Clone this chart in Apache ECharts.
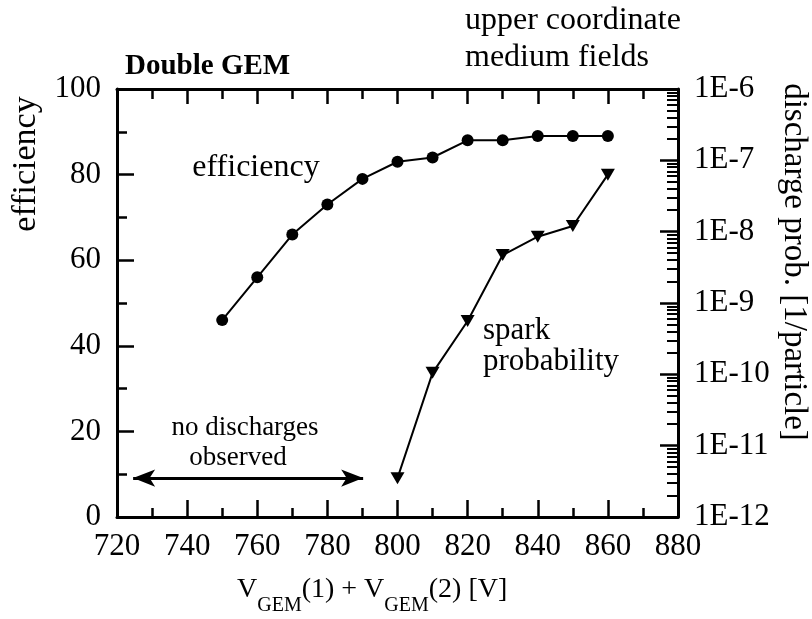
<!DOCTYPE html>
<html>
<head>
    <meta charset="utf-8" />
    <title>Double GEM</title>
    <script src="https://cdn.jsdelivr.net/npm/echarts@6.0.0/dist/echarts.min.js"></script>
    <style>
        body { margin: 0; background: #fff; }
        #chart { width: 812px; height: 619px; }
    </style>
</head>
<body>
    <div id="chart"></div>
    <script type="text/javascript">
        // voltages V_GEM(1) + V_GEM(2)
        var effVoltage = [750, 760, 770, 780, 790, 800, 810, 820, 830, 840, 850, 860];
        var efficiency = [46, 56, 66, 73, 79, 83, 84, 88, 88, 89, 89, 89];
        var sparkVoltage = [800, 810, 820, 830, 840, 850, 860];
        var sparkProb = [3.5e-12, 1.05e-10, 5.6e-10, 4.7e-9, 8.5e-9, 1.2e-8, 6.3e-8];
        var xTicks = [720, 880, 20];
        var effTicks = [0, 100, 20];
        var decades = [-12, -6];
        // "no discharges observed" arrow, in data units
        var noDischargeArrow = [[724.6, 9.1], [790.2, 9.1]];

        var font = 'Liberation Serif';

        // minor log ticks 2..9 per decade
        var minorLog = [];
        for (var e = decades[0]; e < decades[1]; e++) {
            for (var m = 2; m <= 9; m++) minorLog.push(m * Math.pow(10, e));
        }

        function txt(x, y, text, size, align, extra) {
            var el = { type: 'text', x: x, y: y, style: { text: text, fontFamily: font, fontSize: size, fill: '#000', align: align, verticalAlign: 'middle' } };
            if (extra) for (var k in extra) el[k] = extra[k];
            return el;
        }

        var chart = echarts.init(document.getElementById('chart'));
        var option = {
            animation: false,
            grid: { left: 117, right: 134, top: 89, bottom: 102 },
            xAxis: [
                {
                    type: 'value', position: 'bottom',
                    min: xTicks[0], max: xTicks[1], interval: xTicks[2],
                    axisLine: { lineStyle: { color: '#000', width: 3 } },
                    axisTick: { inside: true, length: 17, lineStyle: { color: '#000', width: 2.5 } },
                    minorTick: { show: true, splitNumber: 2, length: 9, lineStyle: { color: '#000', width: 2.5 } },
                    axisLabel: { color: '#000', fontFamily: font, fontSize: 31, margin: 14 },
                    splitLine: { show: false }
                },
                {
                    type: 'value', position: 'top',
                    min: xTicks[0], max: xTicks[1], interval: xTicks[2],
                    axisLine: { lineStyle: { color: '#000', width: 3 } },
                    axisTick: { inside: true, length: 15, lineStyle: { color: '#000', width: 2.5 } },
                    minorTick: { show: true, splitNumber: 2, length: 10, lineStyle: { color: '#000', width: 2.5 } },
                    axisLabel: { show: false },
                    splitLine: { show: false }
                }
            ],
            yAxis: [
                {
                    type: 'value', position: 'left',
                    min: effTicks[0], max: effTicks[1], interval: effTicks[2],
                    axisLine: { lineStyle: { color: '#000', width: 3 } },
                    axisTick: { inside: true, length: 17, lineStyle: { color: '#000', width: 2.5 } },
                    minorTick: { show: true, splitNumber: 2, length: 10, lineStyle: { color: '#000', width: 2.5 } },
                    axisLabel: { color: '#000', fontFamily: font, fontSize: 31, margin: 16 },
                    splitLine: { show: false }
                },
                {
                    type: 'log', position: 'right', logBase: 10,
                    min: Math.pow(10, decades[0]), max: Math.pow(10, decades[1]),
                    axisLine: { lineStyle: { color: '#000', width: 3 } },
                    axisTick: { inside: true, length: 18, lineStyle: { color: '#000', width: 2.5 } },
                    axisLabel: {
                        color: '#000', fontFamily: font, fontSize: 31, margin: 16,
                        formatter: function (v) { return '1E' + Math.round(Math.log10(v)); }
                    },
                    splitLine: { show: false }
                },
                {
                    type: 'log', position: 'right', logBase: 10,
                    min: Math.pow(10, decades[0]), max: Math.pow(10, decades[1]),
                    axisLine: { show: false },
                    axisTick: { inside: true, length: 11, customValues: minorLog, lineStyle: { color: '#000', width: 2 } },
                    axisLabel: { show: false },
                    splitLine: { show: false }
                }
            ],
            series: [
                {
                    name: 'efficiency', type: 'line',
                    xAxisIndex: 0, yAxisIndex: 0,
                    data: effVoltage.map(function (v, i) { return [v, efficiency[i]]; }),
                    symbol: 'circle', symbolSize: 12,
                    itemStyle: { color: '#000' },
                    lineStyle: { color: '#000', width: 2 },
                    markLine: {
                        silent: true,
                        symbol: ['arrow', 'arrow'], symbolSize: [13, 22],
                        label: { show: false },
                        lineStyle: { color: '#000', width: 3, type: 'solid' },
                        data: [[{ coord: noDischargeArrow[0] }, { coord: noDischargeArrow[1] }]]
                    }
                },
                {
                    name: 'spark probability', type: 'line',
                    xAxisIndex: 0, yAxisIndex: 1,
                    data: sparkVoltage.map(function (v, i) { return [v, sparkProb[i]]; }),
                    symbol: 'triangle', symbolRotate: 180, symbolSize: [14, 12],
                    itemStyle: { color: '#000' },
                    lineStyle: { color: '#000', width: 2 }
                }
            ],
            graphic: [
                {
                    type: 'text', x: 125, y: 67,
                    style: { text: 'Double GEM', fontFamily: font, fontSize: 29, fontWeight: 'bold', fill: '#000', align: 'left', verticalAlign: 'middle' }
                },
                txt(465, 21, 'upper coordinate', 32, 'left'),
                txt(465, 58, 'medium fields', 32, 'left'),
                txt(256, 168, 'efficiency', 32, 'center'),
                txt(483, 331, 'spark', 31, 'left'),
                txt(483, 362, 'probability', 31, 'left'),
                txt(245, 428, 'no discharges', 27, 'center'),
                txt(238, 458, 'observed', 27, 'center'),
                txt(26, 164, 'efficiency', 34, 'center', { rotation: Math.PI / 2 }),
                txt(794, 262, 'discharge prob. [1/particle]', 33, 'center', { rotation: -Math.PI / 2 }),
                {
                    type: 'text', x: 237, y: 590,
                    style: {
                        text: 'V{s|GEM}(1) + V{s|GEM}(2) [V]',
                        fontFamily: font, fontSize: 28, fill: '#000', align: 'left', verticalAlign: 'middle',
                        rich: { s: { fontFamily: font, fontSize: 20, fill: '#000', padding: [31, 0, 0, 0] } }
                    }
                }
            ]
        };
        option && chart.setOption(option);
    </script>
</body>
</html>
